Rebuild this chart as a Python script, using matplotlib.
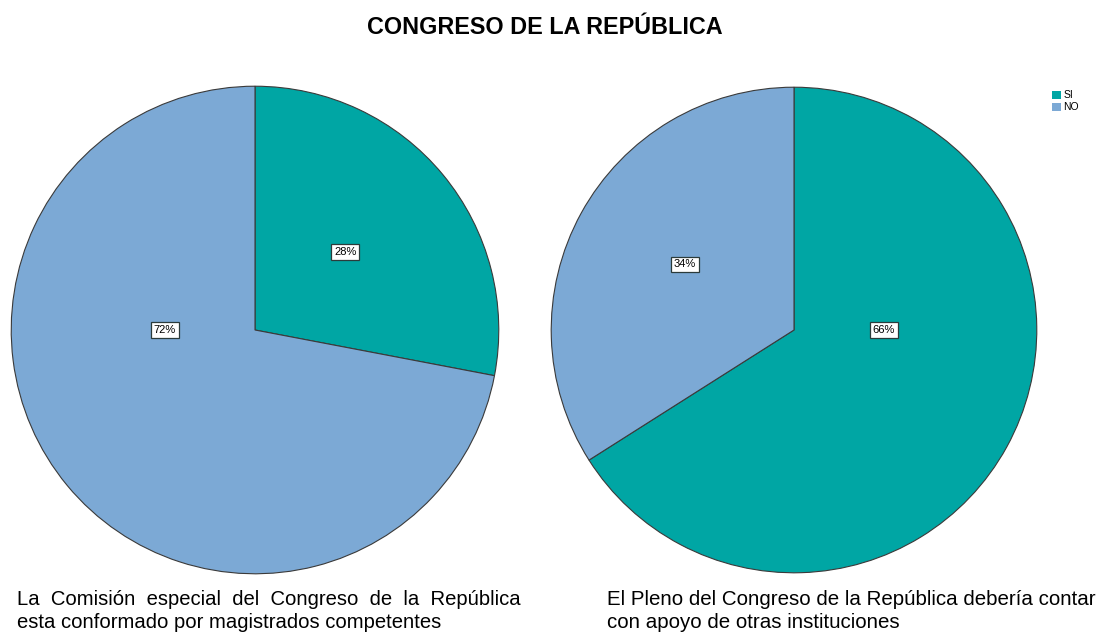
import matplotlib
matplotlib.use("Agg")
import matplotlib.pyplot as plt
from matplotlib.patches import Patch

# data
categories = ["SI", "NO"]
left_values = [28, 72]
right_values = [66, 34]
left_caption = "La  Comisión  especial  del  Congreso  de  la  República\nesta conformado por magistrados competentes"
right_caption = "El Pleno del Congreso de la República debería contar\ncon apoyo de otras instituciones"
title = "CONGRESO DE LA REPÚBLICA"

colors = ["#00A6A4", "#7CA9D5"]
plt.rcParams["font.family"] = ["Liberation Sans", "DejaVu Sans"]

fig = plt.figure(figsize=(11.03, 6.33), dpi=100)
fig.text(0.494, 1 - 27 / 633, title, ha="center", va="center", fontsize=16.8, fontweight="bold")

# label placement inside each wedge (data units, radius 1)
label_pos = {
    "left": [(0.37, 0.32), (-0.37, 0.0)],
    "right": [(0.37, 0.0), (-0.45, 0.27)],
}


def draw_pie(rect, values, positions):
    ax = fig.add_axes(rect)
    wedges, texts, autotexts = ax.pie(
        values, colors=colors, startangle=90, counterclock=False,
        autopct="%d%%", pctdistance=0.5,
        wedgeprops=dict(edgecolor="#3a3a3a", linewidth=0.8),
        textprops=dict(fontsize=8),
    )
    for t, p in zip(autotexts, positions):
        t.set_position(p)
        t.set_bbox(dict(boxstyle="square,pad=0.25", facecolor="white",
                        edgecolor="#2b3b3b", linewidth=0.9))
    ax.set_xlim(-1.005, 1.005)
    ax.set_ylim(-1.005, 1.005)
    ax.set_aspect("equal")
    ax.axis("off")
    return ax


draw_pie([10 / 1103, 58 / 633, 490 / 1103, 490 / 633], left_values, label_pos["left"])
draw_pie([550 / 1103, 59 / 633, 488 / 1103, 488 / 633], right_values, label_pos["right"])

fig.text(17 / 1103, 1 - 611 / 633, left_caption, ha="left", va="center",
         fontsize=14.6, linespacing=1.25)
fig.text(607 / 1103, 1 - 611 / 633, right_caption, ha="left", va="center",
         fontsize=14.8, linespacing=1.25)

handles = [Patch(facecolor=c, edgecolor="none") for c in colors]
fig.legend(handles, categories, loc="upper left", bbox_to_anchor=(1048 / 1103, 1 - 86 / 633),
           frameon=False, fontsize=7.5, handlelength=0.8, handleheight=0.8,
           handletextpad=0.3, labelspacing=0.2, borderaxespad=0)

fig.savefig("out.png", dpi=100)
